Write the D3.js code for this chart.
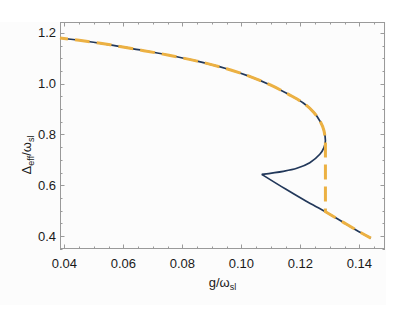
<!DOCTYPE html>
<head>
<meta charset="utf-8">
<script src="https://d3js.org/d3.v7.min.js"></script>
<style>
  body { margin: 0; background: #fff; }
  text { font-family: "Liberation Sans", Arial, sans-serif; fill: #1a1a1a; }
</style>
</head>
<body>
<div id="chart"></div>
<script>
  // upper branch (stable part up to the turning point)
  var gUpper = [0.0385, 0.045, 0.055, 0.065, 0.075, 0.085, 0.095, 0.103, 0.110, 0.116, 0.121, 0.1245, 0.1268, 0.1280, 0.1285];
  var dUpper = [1.180, 1.171, 1.154, 1.134, 1.113, 1.089, 1.059, 1.028, 0.994, 0.958, 0.924, 0.888, 0.850, 0.815, 0.775];
  // middle branch, turning point back to the cusp
  var gMiddle = [0.1285, 0.1280, 0.1266, 0.1232, 0.1188, 0.1142, 0.1069];
  var dMiddle = [0.775, 0.748, 0.722, 0.689, 0.667, 0.655, 0.643];
  // lower branch, cusp to the end
  var gLower = [0.1069, 0.115, 0.122, 0.1285, 0.135, 0.1404, 0.1439];
  var dLower = [0.643, 0.585, 0.537, 0.496, 0.451, 0.414, 0.392];
  var gJump = 0.1285;

  var xTicks = [0.04, 0.06, 0.08, 0.10, 0.12, 0.14];
  var yTicks = [0.4, 0.6, 0.8, 1.0, 1.2];

  var width = 415, height = 309;
  var margin = {left: 60, right: 30, top: 22, bottom: 60};

  var svg = d3.select("#chart").append("svg")
      .attr("width", width)
      .attr("height", height);

  svg.append("rect")
      .attr("x", 0).attr("y", 22)
      .attr("width", 386).attr("height", 283)
      .attr("fill", "#fcfcfc");

  var x = d3.scaleLinear().domain([0.0385, 0.1487]).range([margin.left, width - margin.right]);
  var y = d3.scaleLinear().domain([0.349, 1.243]).range([height - margin.bottom, margin.top]);

  var x0 = x.range()[0], x1 = x.range()[1];
  var y0 = y.range()[0], y1 = y.range()[1];

  // ticks: majors + minors, inward on all four sides
  var frame = svg.append("g").attr("stroke", "#9a9a9a").attr("stroke-width", 1);
  var xMinor = d3.range(0.04, 0.1451, 0.005);
  var yMinor = d3.range(0.35, 1.2401, 0.05);
  function isMajor(v, arr) { return arr.some(function(m) { return Math.abs(m - v) < 1e-6; }); }

  xMinor.forEach(function(v) {
    var len = isMajor(v, xTicks) ? 4.5 : 2.5;
    var px = Math.round(x(v)) + 0.5;
    frame.append("line").attr("x1", px).attr("x2", px).attr("y1", y0).attr("y2", y0 - len);
    frame.append("line").attr("x1", px).attr("x2", px).attr("y1", y1).attr("y2", y1 + len);
  });
  yMinor.forEach(function(v) {
    var len = isMajor(v, yTicks) ? 4.5 : 2.5;
    var py = Math.round(y(v)) + 0.5;
    frame.append("line").attr("y1", py).attr("y2", py).attr("x1", x0).attr("x2", x0 + len);
    frame.append("line").attr("y1", py).attr("y2", py).attr("x1", x1).attr("x2", x1 - len);
  });

  frame.append("rect")
      .attr("x", x0 + 0.5).attr("y", y1 + 0.5)
      .attr("width", x1 - x0 - 1).attr("height", y0 - y1 - 1)
      .attr("fill", "none");

  svg.selectAll(".xl").data(xTicks).enter().append("text")
      .attr("x", function(d) { return x(d); })
      .attr("y", y0 + 19)
      .attr("text-anchor", "middle")
      .style("font-size", "13px")
      .text(function(d) { return d.toFixed(2); });

  svg.selectAll(".yl").data(yTicks).enter().append("text")
      .attr("x", x0 - 4)
      .attr("y", function(d) { return y(d) + 4.5; })
      .attr("text-anchor", "end")
      .style("font-size", "13px")
      .text(function(d) { return d.toFixed(1); });

  // axis labels
  var xl = svg.append("text")
      .attr("x", (x0 + x1) / 2)
      .attr("y", 287)
      .attr("text-anchor", "middle")
      .style("font-size", "13px");
  xl.append("tspan").text("g/ω");
  xl.append("tspan").attr("dy", 3).style("font-size", "9px").text("sl");

  var yl = svg.append("text")
      .attr("transform", "translate(31,155) rotate(-90)")
      .attr("text-anchor", "middle")
      .style("font-size", "13px");
  yl.append("tspan").text("Δ");
  yl.append("tspan").attr("dy", 3).style("font-size", "9px").text("eff");
  yl.append("tspan").attr("dy", -3).text("/ω");
  yl.append("tspan").attr("dy", 3).style("font-size", "9px").text("sl");

  function pts(gs, ds) { return gs.map(function(g, i) { return [g, ds[i]]; }); }

  var smooth = d3.line()
      .x(function(d) { return x(d[0]); })
      .y(function(d) { return y(d[1]); })
      .curve(d3.curveCatmullRom);

  var upperPts = pts(gUpper, dUpper);
  var middlePts = pts(gMiddle, dMiddle);
  var lowerPts = pts(gLower, dLower);

  // full solution (dark)
  svg.append("path")
      .attr("d", smooth(upperPts.concat(middlePts.slice(1))))
      .attr("fill", "none").attr("stroke", "#22385a").attr("stroke-width", 1.7);
  svg.append("path")
      .attr("d", smooth(lowerPts))
      .attr("fill", "none").attr("stroke", "#22385a").attr("stroke-width", 1.7);

  // stable path with the jump (dashed)
  var jumpD = dLower[gLower.indexOf(gJump)];
  var after = lowerPts.filter(function(p) { return p[0] >= gJump; });
  var tail = smooth([[gJump, jumpD]].concat(after.slice(1)));
  var d = smooth(upperPts) + "L" + x(gJump) + "," + y(jumpD) + tail.replace(/^M[^LC]*/, "");
  svg.append("path")
      .attr("d", d)
      .attr("fill", "none")
      .attr("stroke", "#ecb143")
      .attr("stroke-width", 3)
      .attr("stroke-dasharray", "15,7")
      .attr("stroke-dashoffset", 7);
</script>
</body>
</html>
